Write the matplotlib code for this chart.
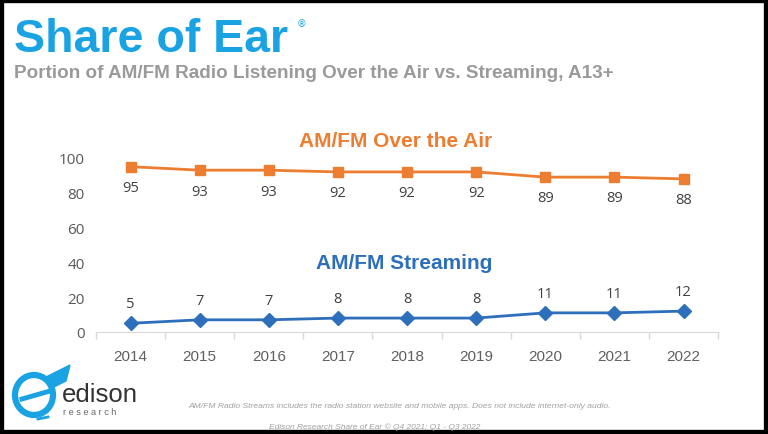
import numpy as np
import matplotlib
matplotlib.use("Agg")
import matplotlib.pyplot as plt
from matplotlib.patches import Rectangle, Ellipse, Polygon

years = ["2014", "2015", "2016", "2017", "2018", "2019", "2020", "2021", "2022"]
over_air = [95, 93, 93, 92, 92, 92, 89, 89, 88]
streaming = [5, 7, 7, 8, 8, 8, 11, 11, 12]
y_ticks = [0, 20, 40, 60, 80, 100]

ORANGE = "#ED7D31"
BLUE = "#2E6FBB"
SKY = "#1AA3E3"

W, H = 768, 435
fig = plt.figure(figsize=(W / 100, H / 100), dpi=100)
fig.patch.set_facecolor("white")

# black frame round the slide
fig.add_artist(Rectangle((0, 0), 1, 1, transform=fig.transFigure, fill=False,
                         edgecolor="black", linewidth=6))

fig.text(0.018, 1 - 52 / H, "Share of Ear", color=SKY, fontsize=33.5, fontweight="bold",
         family="Liberation Sans", va="baseline")
fig.text(297 / W, 1 - 27 / H, "®", color=SKY, fontsize=7, family="DejaVu Sans")
fig.text(0.018, 1 - 78 / H, "Portion of AM/FM Radio Listening Over the Air vs. Streaming, A13+",
         color="#9a9a9a", fontsize=13.6, fontweight="bold", family="Liberation Sans",
         va="baseline")

ax = fig.add_axes([0.125, 0.2345, 0.81, 0.4])
x = np.arange(len(years))
ax.plot(x, over_air, color=ORANGE, lw=2, marker="s", ms=7, clip_on=False)
ax.plot(x, streaming, color=BLUE, lw=2, marker="D", ms=7, clip_on=False)

for xi, v in zip(x, over_air):
    ax.annotate(str(v), (xi, v), xytext=(0, -15), textcoords="offset points",
                ha="center", va="center", fontsize=10.5, color="#404040",
                family="Open Sans")
for xi, v in zip(x, streaming):
    ax.annotate(str(v), (xi, v), xytext=(0, 14), textcoords="offset points",
                ha="center", va="center", fontsize=10.5, color="#404040",
                family="Open Sans")

ax.text(3.84, 110, "AM/FM Over the Air", color=ORANGE, fontsize=15, fontweight="bold",
        ha="center", va="center", family="Liberation Sans")
ax.text(3.96, 40, "AM/FM Streaming", color=BLUE, fontsize=15, fontweight="bold",
        ha="center", va="center", family="Liberation Sans")

ax.set_xlim(-0.5, len(years) - 0.5)
ax.set_ylim(0, 100)
ax.set_yticks(y_ticks)
ax.set_yticklabels([str(t) for t in y_ticks], fontsize=11, color="#595959", family="Open Sans")
ax.set_xticks(x)
ax.set_xticklabels(years, fontsize=11, color="#606060", family="Liberation Sans")
ax.tick_params(axis="x", length=0, pad=12)
ax.tick_params(axis="y", length=0, pad=8)
ax.set_xticks(np.arange(len(years) + 1) - 0.5, minor=True)
ax.tick_params(axis="x", which="minor", length=5, color="#d9d9d9", width=1)
for s in ["top", "right", "left"]:
    ax.spines[s].set_visible(False)
ax.spines["bottom"].set_color("#d9d9d9")
ax.patch.set_alpha(0)

# edison logo, roughly
fig.add_artist(Ellipse((34 / W, 1 - 396 / H), 38 / W, 40 / H, angle=0,
                       transform=fig.transFigure, fill=False, edgecolor=SKY, linewidth=4.5))
fig.add_artist(Polygon([(46 / W, 1 - 378 / H), (70 / W, 1 - 366 / H), (66 / W, 1 - 382 / H),
                        (54 / W, 1 - 388 / H)], closed=True, transform=fig.transFigure,
                       facecolor=SKY, edgecolor=SKY))
fig.add_artist(plt.Line2D([22 / W, 50 / W], [1 - 400 / H, 1 - 392 / H],
                          transform=fig.transFigure, color=SKY, lw=3.5))
fig.add_artist(plt.Line2D([38 / W, 48 / W], [1 - 420 / H, 1 - 418 / H],
                          transform=fig.transFigure, color=SKY, lw=2))
fig.text(62 / W, 1 - 402 / H, "edison", color="#333333", fontsize=18.5,
         family="Liberation Sans", va="baseline")
fig.text(63 / W, 1 - 415 / H, "r e s e a r c h", color="#666666", fontsize=6.6,
         family="Liberation Sans", va="baseline")

fig.text(400 / W, 1 - 407 / H, "AM/FM Radio Streams includes the radio station website and "
         "mobile apps. Does not include internet-only audio.", color="#a0a0a0", fontsize=6.1,
         style="italic", ha="center", va="center", family="Liberation Sans")
fig.text(375 / W, 1 - 427 / H, "Edison Research Share of Ear © Q4 2021; Q1 - Q3 2022",
         color="#a0a0a0", fontsize=6.0, style="italic", ha="center", va="center",
         family="Liberation Sans")

fig.savefig("out.png", dpi=100)
